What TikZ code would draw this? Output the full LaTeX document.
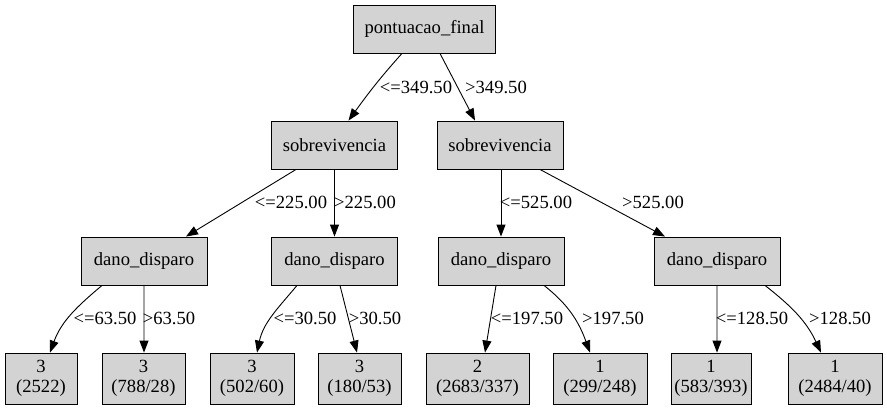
\documentclass[tikz,border=0pt]{standalone}
\usepackage{fontspec}
\setmainfont{Liberation Serif}
\usetikzlibrary{arrows.meta,calc}
\definecolor{nodegray}{RGB}{211,211,211}
\begin{document}
\begin{tikzpicture}[x=1bp,y=1bp,
  box/.style={draw=black, line width=0.9bp, fill=nodegray, inner sep=0pt, minimum height=48bp, font=\fontsize{18.67}{20}\selectfont},
  leaf/.style={box, minimum height=51bp, align=center},
  lbl/.style={inner sep=0pt, font=\fontsize{18.67}{20}\selectfont},
  arr/.style={line width=0.9bp, -{Triangle[length=12bp,width=9bp]}}]
\useasboundingbox (0,0) rectangle (887,-409);
% internal nodes
\node[box, minimum width=142bp] (root) at (424.5,-29) {pontuacao\_final};
\node[box, minimum width=126bp] (s1) at (334.5,-145) {sobrevivencia};
\node[box, minimum width=126bp] (s2) at (500,-145) {sobrevivencia};
\node[box, minimum width=126bp] (d1) at (144,-261) {dano\_disparo};
\node[box, minimum width=126bp] (d2) at (334.5,-261) {dano\_disparo};
\node[box, minimum width=126bp] (d3) at (501,-261) {dano\_disparo};
\node[box, minimum width=126bp] (d4) at (717,-261) {dano\_disparo};
% leaves
\node[leaf, minimum width=72bp] (l1) at (41,-378.5) {3\\(2522)};
\node[leaf, minimum width=83bp] (l2) at (143.5,-378.5) {3\\(788/28)};
\node[leaf, minimum width=84bp] (l3) at (252,-378.5) {3\\(502/60)};
\node[leaf, minimum width=83bp] (l4) at (359.5,-378.5) {3\\(180/53)};
\node[leaf, minimum width=103bp] (l5) at (477.5,-378.5) {2\\(2683/337)};
\node[leaf, minimum width=94bp] (l6) at (600,-378.5) {1\\(299/248)};
\node[leaf, minimum width=80bp] (l7) at (711,-378.5) {1\\(583/393)};
\node[leaf, minimum width=94bp] (l8) at (835,-378.5) {1\\(2484/40)};
% edges
\draw[arr] ([xshift=-22.5bp]root.south) to[out=-132,in=54] ([xshift=14bp]s1.north);
\draw[arr] ([xshift=15.5bp]root.south) -- ([xshift=-25bp]s2.north);
\draw[arr] ([xshift=-38.5bp]s1.south) -- ([xshift=42bp]d1.north);
\draw[arr] (s1.south) -- (d2.north);
\draw[arr] ([xshift=1bp]s2.south) -- (d3.north);
\draw[arr] ([xshift=40bp]s2.south) -- ([xshift=-52bp]d4.north);
\draw[arr] ([xshift=-42bp]d1.south) to[out=-140,in=70] ([xshift=9bp]l1.north);
\draw[arr] (d1.south) -- ([xshift=0.5bp]l2.north);
\draw[arr] ([xshift=-37.5bp]d2.south) to[out=-130,in=78] ([xshift=5bp]l3.north);
\draw[arr] ([xshift=5.5bp]d2.south) -- ([xshift=-2.5bp]l4.north);
\draw[arr] ([xshift=-5bp]d3.south) -- ([xshift=7.5bp]l5.north);
\draw[arr] ([xshift=43bp]d3.south) to[out=-38,in=110] ([xshift=-10bp]l6.north);
\draw[arr] (d4.south) -- ([xshift=6bp]l7.north);
\draw[arr] ([xshift=48bp]d4.south) to[out=-38,in=115] ([xshift=-14bp]l8.north);
% edge labels
\node[lbl] (e1) at (416,-87) {<=349.50};
\node[lbl] (e2) at (496,-87) {>349.50};
\node[lbl] (e3) at (291,-202) {<=225.00};
\node[lbl] (e4) at (365,-202) {>225.00};
\node[lbl] (e5) at (536,-202) {<=525.00};
\node[lbl] (e6) at (653,-202) {>525.00};
\node[lbl] (e7) at (105,-318) {<=63.50};
\node[lbl] (e8) at (169,-318) {>63.50};
\node[lbl] (e9) at (305,-318) {<=30.50};
\node[lbl] (e10) at (375,-318) {>30.50};
\node[lbl] (e11) at (527,-318) {<=197.50};
\node[lbl] (e12) at (613,-318) {>197.50};
\node[lbl] (e13) at (752,-318) {<=128.50};
\node[lbl] (e14) at (840,-318) {>128.50};
\end{tikzpicture}
\end{document}
